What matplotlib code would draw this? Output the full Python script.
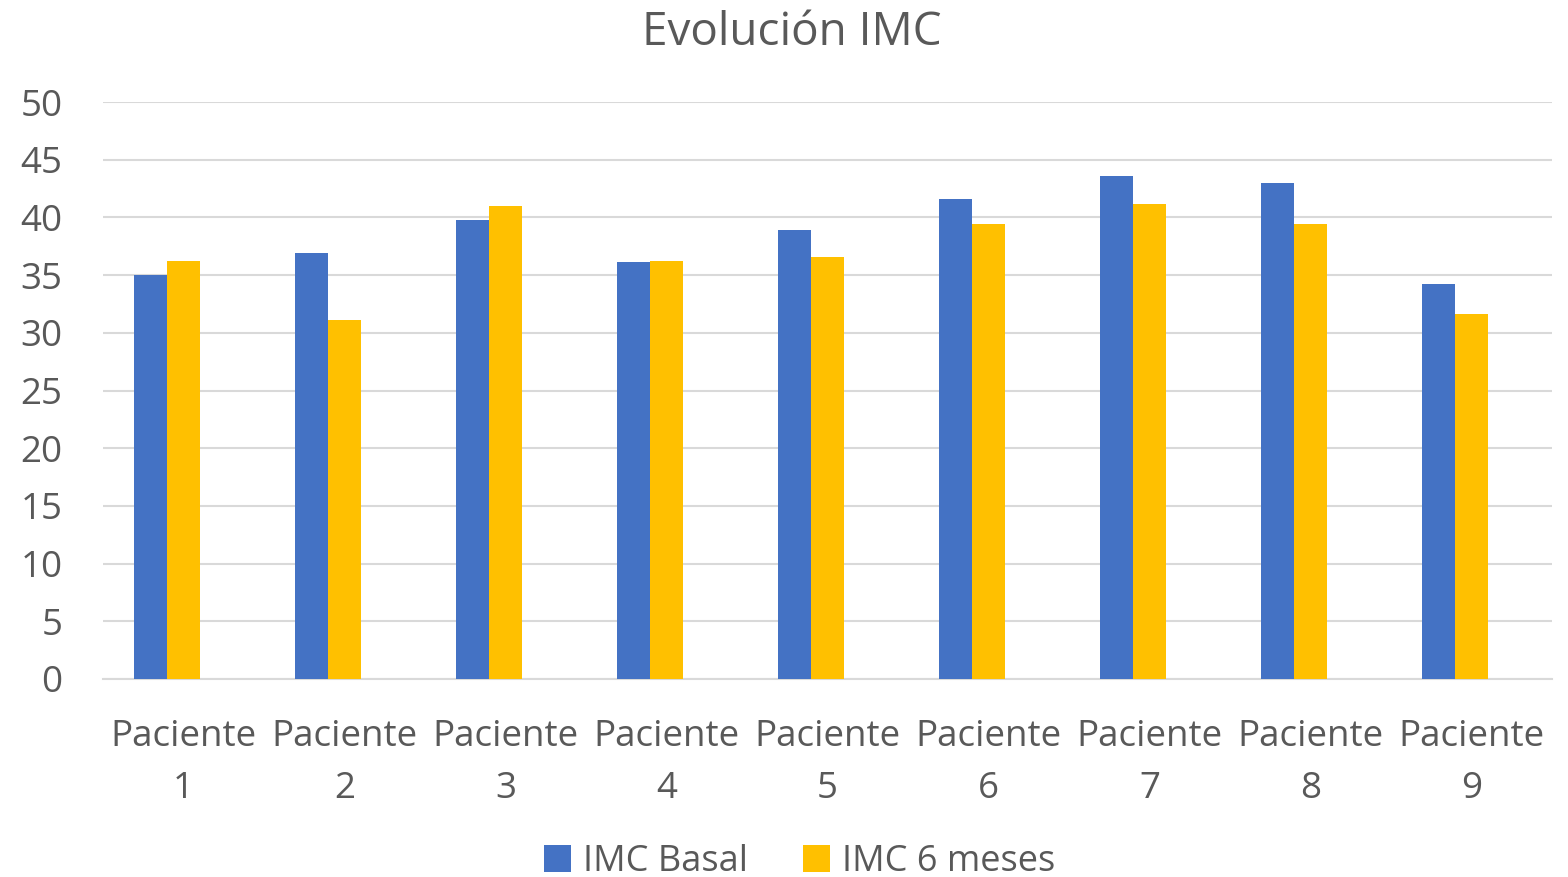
import matplotlib
matplotlib.use("Agg")
import matplotlib.pyplot as plt
import numpy as np

categories = ["Paciente\n1", "Paciente\n2", "Paciente\n3", "Paciente\n4", "Paciente\n5",
              "Paciente\n6", "Paciente\n7", "Paciente\n8", "Paciente\n9"]
imc_basal = [35.0, 36.9, 39.8, 36.1, 38.9, 41.6, 43.6, 43.0, 34.2]
imc_6m = [36.2, 31.1, 41.0, 36.2, 36.6, 39.4, 41.2, 39.4, 31.6]
series_names = ["IMC Basal", "IMC 6 meses"]
yticks = [0, 5, 10, 15, 20, 25, 30, 35, 40, 45, 50]

plt.rcParams['font.family'] = ['Open Sans', 'DejaVu Sans']
txt = '#595959'

fig = plt.figure(figsize=(15.68, 8.77), dpi=100)
ax = fig.add_axes([103/1568, 1-679/877, (1552-103)/1568, (679-102)/877])

x = np.arange(len(categories))
w = 0.205
ax.bar(x - w, imc_basal, width=w, color='#4472C4', label=series_names[0], zorder=3)
ax.bar(x, imc_6m, width=w, color='#FFC000', label=series_names[1], zorder=3)

ax.set_xlim(-0.5, len(categories) - 0.5)
ax.set_ylim(0, 50)
ax.set_yticks(yticks)
ax.set_xticks(x)
ax.set_xticklabels(categories, fontsize=26.5, color=txt, linespacing=1.6)
ax.tick_params(axis='y', labelsize=26.5, labelcolor=txt, length=0, pad=29)
ax.tick_params(axis='x', length=0, pad=29)
ax.yaxis.grid(True, color='#D9D9D9', linewidth=1.5, zorder=0)
ax.set_axisbelow(True)
for s in ['top', 'right', 'left']:
    ax.spines[s].set_visible(False)
ax.spines['bottom'].set_color('#D9D9D9')
ax.spines['bottom'].set_linewidth(1.5)

fig.text(0.505, 1 - 33/877, "Evolución IMC", ha='center', va='center', fontsize=33, color=txt)

handles, labels = ax.get_legend_handles_labels()
fig.legend(handles, labels, loc='center', bbox_to_anchor=(0.51, 1 - 862/877), ncol=2,
           frameon=False, fontsize=26, labelcolor=txt, handlelength=0.75, handleheight=0.75,
           handletextpad=0.35, columnspacing=1.5)

fig.savefig("out.png", dpi=100)
